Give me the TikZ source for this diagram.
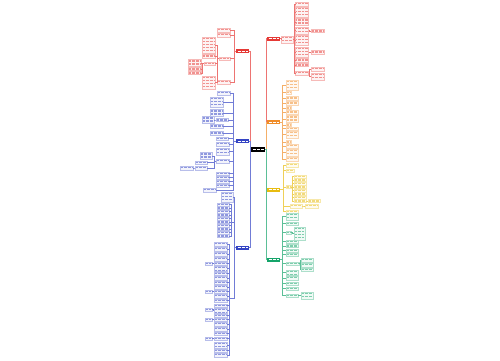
\documentclass[tikz,border=0pt]{standalone}
\definecolor{mred}{HTML}{E53935}
\definecolor{morange}{HTML}{F08C28}
\definecolor{myellow}{HTML}{E8BC10}
\definecolor{mgreen}{HTML}{15A46A}
\definecolor{mblue}{HTML}{3444C4}
\tikzset{
 txt/.style={line width=1.3pt, dash pattern=on 0.9pt off 0.45pt},
 leaf/.style={draw=#1!35, line width=0.25pt, fill=#1!6, inner sep=0pt, outer sep=0pt, anchor=north west,
   path picture={\foreach \k in {1,...,14}{\draw[txt,#1!55] ([xshift=0.9pt,yshift={-\k*3pt+1.4pt}]path picture bounding box.north west) -- ([xshift=-0.9pt,yshift={-\k*3pt+1.4pt}]path picture bounding box.north east);}}},
 hub/.style={fill=#1, draw=none, inner sep=0pt, outer sep=0pt, anchor=north west, minimum width=13pt, minimum height=4pt,
   path picture={\draw[txt,white,line width=0.9pt] ([xshift=1.5pt]path picture bounding box.west) -- ([xshift=-1.5pt]path picture bounding box.east);}},
 conn/.style={draw=#1!70, line width=0.4pt},
}
\newcommand\Lf[6]{\node[leaf=#2,minimum width=#5pt,minimum height=#6pt] (#1) at (#3,#4) {};}
\newcommand\cR[4]{\draw[conn=#4] (#1.east) -- ++(#3,0) |- (#2.west);}
\newcommand\cL[4]{\draw[conn=#4] (#1.west) -- ++(-#3,0) |- (#2.east);}
\begin{document}
\begin{tikzpicture}[x=1pt,y=-1pt]
\useasboundingbox[fill=white] (0,0) rectangle (500,360);
% ---------- central and main branches
\node[hub=black, minimum width=14pt, minimum height=5pt] (C) at (251,147) {};
\node[hub=mred] (R1) at (267,36.5) {};
\node[hub=morange] (R2) at (267,120) {};
\node[hub=myellow] (R3) at (267,187.5) {};
\node[hub=mgreen] (R4) at (267,257.5) {};
\node[hub=mred] (L1) at (236,49) {};
\node[hub=mblue] (L2) at (236,139) {};
\node[hub=mblue] (L3) at (236,245.5) {};
\cR{C}{R1}{1}{mred}
\cR{C}{R2}{1}{morange}
\cR{C}{R3}{1}{myellow}
\cR{C}{R4}{1}{mgreen}
\cL{C}{L1}{1}{mred}
\cL{C}{L2}{1}{mblue}
\cL{C}{L3}{1}{mblue}
% ---------- red right
\Lf{R1a}{mred}{281}{36}{12}{7}
\cR{R1}{R1a}{1}{mred}
\Lf{r1}{mred}{295.5}{2}{13}{4}
\Lf{r2}{mred}{295.5}{7}{13}{10}
\Lf{r3}{mred}{295.5}{18.5}{13}{7}
\Lf{r4}{mred}{295.5}{27}{13}{7}
\Lf{r5}{mred}{295.5}{35}{13}{10}
\Lf{r6}{mred}{295.5}{47}{13}{10}
\Lf{r7}{mred}{295.5}{58.5}{13}{4}
\Lf{r8}{mred}{295.5}{63.5}{13}{3}
\Lf{r9}{mred}{295.5}{71}{13}{4}
\foreach \n in {r1,r2,r3,r4,r5,r6,r7,r8,r9}{\cR{R1a}{\n}{1}{mred}}
\Lf{s1}{mred}{311}{29.5}{13}{3}
\Lf{s2}{mred}{311}{50.5}{13}{4}
\Lf{s3}{mred}{311}{67}{13}{4}
\Lf{s4}{mred}{311}{73}{13}{7}
\cR{r4}{s1}{1}{mred}
\cR{r6}{s2}{1}{mred}
\cR{r9}{s3}{1}{mred}
\cR{r9}{s4}{1}{mred}
% ---------- red left
\Lf{a1}{mred}{217}{28}{13}{4}
\Lf{a2}{mred}{217}{33}{13}{4}
\Lf{a3}{mred}{219}{57}{11}{3}
\Lf{a4}{mred}{217}{80}{13}{4}
\foreach \n in {a1,a2,a3,a4}{\cL{L1}{\n}{2}{mred}}
\Lf{a31}{mred}{202}{37}{13}{16}
\Lf{a32}{mred}{202}{54.5}{13}{4}
\Lf{a33}{mred}{204}{62}{11}{3}
\Lf{a34}{mred}{202}{76}{13}{13}
\foreach \n in {a31,a32,a33,a34}{\cL{a3}{\n}{2}{mred}}
\Lf{a331}{mred}{188}{59.5}{13}{7}
\Lf{a332}{mred}{188}{67.5}{13}{3}
\Lf{a333}{mred}{188}{71.5}{13}{3}
\foreach \n in {a331,a332,a333}{\cL{a33}{\n}{2}{mred}}
% ---------- blue upper
\Lf{b1}{mblue}{217}{91}{13}{4}
\Lf{b2}{mblue}{210}{97}{13}{10}
\Lf{b3}{mblue}{210}{109.5}{13}{7}
\Lf{b4}{mblue}{216}{118.5}{12}{3}
\Lf{b5}{mblue}{210}{124.5}{13}{4}
\Lf{b6}{mblue}{210}{131.5}{13}{4}
\Lf{b7}{mblue}{216}{137}{12}{3}
\Lf{b8}{mblue}{216}{142}{13}{4}
\Lf{b9}{mblue}{216}{148}{13}{7}
\Lf{b10}{mblue}{216}{159}{13}{4}
\Lf{b11}{mblue}{216}{172}{13}{3}
\Lf{b12}{mblue}{216}{176}{13}{3}
\Lf{b13}{mblue}{216}{180}{13}{3}
\Lf{b14}{mblue}{216}{184}{13}{3}
\Lf{b15}{mblue}{203}{188}{13}{4}
\foreach \n in {b1,b2,b3,b4,b5,b6,b7,b8,b9,b10,b11,b12,b13,b14,b15}{\cL{L2}{\n}{3}{mblue}}
\Lf{b4a}{mblue}{202}{116.5}{12}{7}
\cL{b4}{b4a}{1}{mblue}
\Lf{c1}{mblue}{200}{152.5}{12}{7}
\Lf{c2}{mblue}{195}{161}{12}{3}
\Lf{c3}{mblue}{195}{166}{12}{4}
\foreach \n in {c1,c2,c3}{\cL{b10}{\n}{2}{mblue}}
\Lf{d1}{mblue}{180}{166}{13}{4}
\cL{c3}{d1}{1}{mblue}
% ---------- blue lower
\Lf{e0}{mblue}{221}{192}{12}{10}
\coordinate (g1) at (231,222);
\coordinate (g2) at (229,298);
\draw[conn=mblue] (L3.west) -- ++(-2,0) |- (e0.east);
\draw[conn=mblue] (L3.west) -- ++(-2,0) |- (g1);
\draw[conn=mblue] (L3.west) -- ++(-2,0) |- (g2);
\foreach \i/\y in {1/203,2/206.5,3/210,4/213.5,5/217,6/220.5,7/224,8/227.5,9/231,10/234.5}{
  \Lf{t\i}{mblue}{217}{\y}{12}{3}
  \draw[conn=mblue] (g1) |- (t\i.east);
}
\foreach \i/\y/\h in {1/242/4,2/247/4,3/252/4,4/257/4,5/262/3,6/266/5,7/272/3,8/276/4,9/281/3,10/285/4,11/290/3,12/294/4,13/299/3,14/304/3,15/308/5,16/314/3,17/318/3,18/322/4,19/327/4,20/332/3,21/337/3,22/342/6,23/349/3,24/353/4}{
  \Lf{u\i}{mblue}{214}{\y}{13}{\h}
  \draw[conn=mblue] (g2) |- (u\i.east);
}
\foreach \i/\p/\y in {1/5/262,2/11/290,3/15/308,4/17/318,5/21/337}{
  \Lf{v\i}{mblue}{205}{\y}{7}{3}
  \cL{u\p}{v\i}{1}{mblue}
}
% ---------- orange
\Lf{o1}{morange}{286}{80}{12}{10}
\Lf{o2}{morange}{286}{91}{5}{3}
\Lf{o3}{morange}{286}{96.5}{12}{4}
\Lf{o4}{morange}{286}{101.5}{12}{4}
\Lf{o5}{morange}{286}{106.5}{5}{3}
\Lf{o6}{morange}{286}{110.5}{12}{4}
\Lf{o7}{morange}{286}{115.5}{12}{7}
\Lf{o8}{morange}{286}{123.5}{5}{3}
\Lf{o9}{morange}{286}{127}{12}{3}
\Lf{o10}{morange}{286}{131}{12}{7}
\Lf{o11}{morange}{286}{140.5}{5}{3}
\Lf{o12}{morange}{286}{144}{12}{4}
\Lf{o13}{morange}{286}{149}{12}{7}
\Lf{o14}{morange}{286}{157}{12}{4}
\foreach \n in {o1,o2,o3,o4,o5,o6,o7,o8,o9,o10,o11,o12,o13,o14}{\cR{R2}{\n}{2}{morange}}
% ---------- yellow
\Lf{y0}{myellow}{286}{163}{12}{4}
\Lf{y1}{myellow}{286}{169}{8}{3}
\Lf{y2}{myellow}{286}{185.5}{5}{3}
\Lf{y3}{myellow}{290}{204}{12}{4}
\Lf{y4}{myellow}{286}{210}{12}{3}
\foreach \n in {y0,y1,y2,y3,y4}{\cR{R3}{\n}{3}{myellow}}
\foreach \i/\y in {1/175,2/178.5,3/182,4/185.5,5/189,6/192.5,7/196,8/199.5}{
  \Lf{yy\i}{myellow}{294}{\y}{12}{3}
  \cR{y2}{yy\i}{1.5}{myellow}
}
\Lf{yz1}{myellow}{308}{199.5}{12}{3}
\cR{yy8}{yz1}{1}{myellow}
\Lf{yz2}{myellow}{305}{204}{13}{4}
\cR{y3}{yz2}{1}{myellow}
% ---------- green
\Lf{gg1}{mgreen}{286}{213}{12}{7}
\Lf{gg2}{mgreen}{286}{222}{12}{3}
\Lf{gg3}{mgreen}{286}{231}{5}{3}
\Lf{gg4}{mgreen}{286}{240}{12}{3}
\Lf{gg5}{mgreen}{286}{244.5}{12}{3}
\Lf{gg6}{mgreen}{286}{249}{12}{3}
\Lf{gg7}{mgreen}{286}{253}{12}{3}
\Lf{gg8}{mgreen}{286}{262}{13}{3}
\Lf{gg9}{mgreen}{286}{270}{12}{5}
\Lf{gg10}{mgreen}{286}{276}{12}{4}
\Lf{gg11}{mgreen}{286}{282}{12}{3}
\Lf{gg12}{mgreen}{286}{287}{12}{3}
\Lf{gg13}{mgreen}{286}{294}{12}{3}
\foreach \n in {gg1,gg2,gg3,gg4,gg5,gg6,gg7,gg8,gg9,gg10,gg11,gg12,gg13}{\cR{R4}{\n}{2}{mgreen}}
\Lf{h1}{mgreen}{294}{227}{11}{13}
\cR{gg3}{h1}{1.5}{mgreen}
\Lf{h2}{mgreen}{301}{258}{12}{4}
\Lf{h3}{mgreen}{301}{263}{12}{4}
\Lf{h4}{mgreen}{301}{268}{12}{3}
\foreach \n in {h2,h3,h4}{\cR{gg8}{\n}{1}{mgreen}}
\Lf{h5}{mgreen}{301}{292}{12}{7}
\cR{gg13}{h5}{1}{mgreen}
\end{tikzpicture}
\end{document}
